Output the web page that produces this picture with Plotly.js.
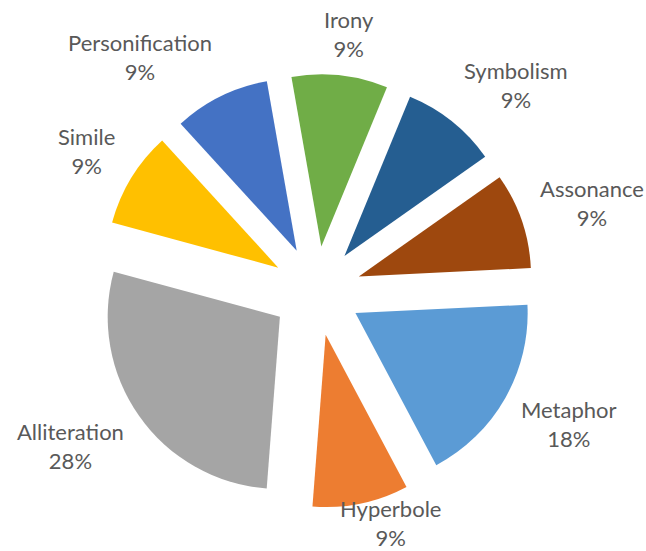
<!DOCTYPE html>
<html>
<head>
<meta charset="utf-8">
<script src="https://cdn.plot.ly/plotly-3.0.1.min.js"></script>
<style>html,body{margin:0;padding:0;background:#fff;}#chart{width:646px;height:551px;} text{font-variant-ligatures:none;}</style>
</head>
<body>
<div id="chart"></div>
<script>
const categories = ["Irony", "Symbolism", "Assonance", "Metaphor", "Hyperbole", "Alliteration", "Simile", "Personification"];
const shares = [9, 9, 9, 18, 9, 28, 9, 9];
const colors = ["#70AD47", "#255E91", "#9E480E", "#5B9BD5", "#ED7D31", "#A5A5A5", "#FFC000", "#4472C4"];

const W = 646, H = 551;
const FONT = "Lato, 'Open Sans', sans-serif";
const FS = 22;
const ROT = -10, PULL = 0.26;
const cxPx = 316.5, cyPx = 291, halfPx = 217;

const trace = {
  type: "pie",
  labels: categories,
  values: shares,
  sort: false,
  direction: "clockwise",
  rotation: ROT,
  pull: PULL,
  marker: {colors: colors, line: {color: "#ffffff", width: 0}},
  textinfo: "none",
  hoverinfo: "label+percent",
  domain: {x: [(cxPx - halfPx) / W, (cxPx + halfPx) / W], y: [1 - (cyPx + halfPx) / H, 1 - (cyPx - halfPx) / H]}
};

// Excel-style outside data labels: placed just beyond each exploded slice, along its bisector
const total = shares.reduce((a, b) => a + b, 0);
const ctx = document.createElement("canvas").getContext("2d");
ctx.font = FS + "px Lato";
const lineH = FS * 1.3;
const labelR = 236;
const clamp = (v, lo, hi) => Math.max(lo, Math.min(hi, v));
let cum = 0;
const annotations = categories.map((name, i) => {
  const pct = Math.round(shares[i] / total * 100) + "%";
  const mid = (ROT + 360 * (cum + shares[i] / 2) / total) * Math.PI / 180;
  cum += shares[i];
  const ux = Math.sin(mid), uy = -Math.cos(mid);
  const w = Math.max(ctx.measureText(name).width, ctx.measureText(pct).width);
  const h = 2 * lineH;
  let px = cxPx + ux * labelR + (w / 2) * clamp(ux * 2.5, -1, 1);
  let py = cyPx + uy * labelR + 22 * clamp(uy * 1.5, -1, 1);
  px = clamp(px, w / 2 + 2, W - w / 2 - 2);
  py = clamp(py, h / 2 - 4, H - h / 2 + 1);
  return {
    x: px / W, y: 1 - py / H, xref: "paper", yref: "paper",
    xanchor: "center", yanchor: "middle", showarrow: false, align: "center",
    text: name + "<br>" + pct,
    font: {family: FONT, size: FS, color: "#595959"}
  };
});

const layout = {
  width: W,
  height: H,
  margin: {l: 0, r: 0, t: 0, b: 0},
  showlegend: false,
  paper_bgcolor: "#ffffff",
  font: {family: FONT, color: "#595959"},
  annotations: annotations
};

Plotly.newPlot("chart", [trace], layout, {displayModeBar: false, staticPlot: true});
</script>
</body>
</html>
